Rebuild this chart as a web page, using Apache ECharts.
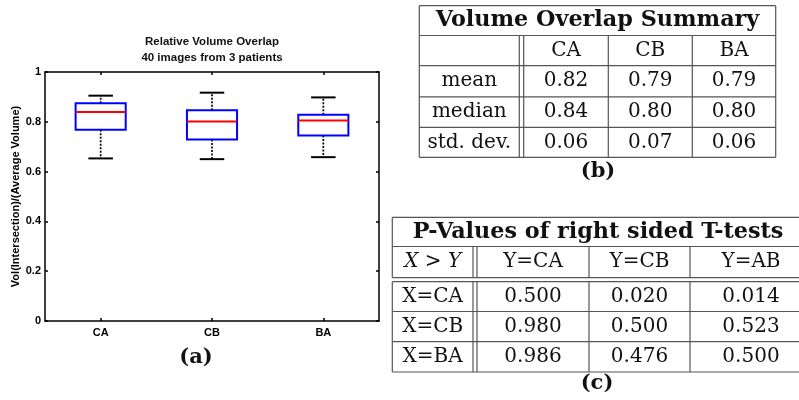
<!DOCTYPE html>
<html><head><meta charset="utf-8">
<script src="https://cdn.jsdelivr.net/npm/echarts@6/dist/echarts.min.js"></script>
<style>html,body{margin:0;padding:0;background:#fff}#c{width:799px;height:400px}</style>
</head><body><div id="c"></div>
<script>
// ---- boxplot data ----
const categories = ['CA', 'CB', 'BA'];
const whiskerLow  = [0.653, 0.650, 0.658];
const quartile1   = [0.768, 0.729, 0.745];
const medians     = [0.839, 0.801, 0.805];
const quartile3   = [0.875, 0.846, 0.828];
const whiskerHigh = [0.905, 0.917, 0.898];
const chartTitle = ['Relative Volume Overlap', '40 images from 3 patients'];
const yAxisName = 'Vol(Intersection)/(Average Volume)';

// ---- table (b) ----
const summaryTitle = 'Volume Overlap Summary';
const summaryCols = ['CA', 'CB', 'BA'];
const summaryRows = ['mean', 'median', 'std. dev.'];
const summaryMean = ['0.82', '0.79', '0.79'];
const summaryMedian = ['0.84', '0.80', '0.80'];
const summaryStd = ['0.06', '0.07', '0.06'];

// ---- table (c) ----
const pTitle = 'P-Values of right sided T-tests';
const pCorner = '{i|X} > {i|Y}';
const pCols = ['Y=CA', 'Y=CB', 'Y=AB'];
const pRows = ['X=CA', 'X=CB', 'X=BA'];
const pRowCA = ['0.500', '0.020', '0.014'];
const pRowCB = ['0.980', '0.500', '0.523'];
const pRowBA = ['0.986', '0.476', '0.500'];

const captions = ['(a)', '(b)', '(c)'];

const SANS = 'Liberation Sans, Arial, sans-serif';
const SERIF = 'DejaVu Serif, serif';
const LC = '#555', LW = 1.2;
const REG = 20, BOLD = 22.3, CAP = 21;

const boxData = categories.map((c, i) => [i, whiskerLow[i], quartile1[i], medians[i], quartile3[i], whiskerHigh[i]]);

function renderBox(params, api) {
  const i = api.value(0);
  const lo = api.coord([i, api.value(1)]);
  const b1 = api.coord([i, api.value(2)]);
  const md = api.coord([i, api.value(3)]);
  const b3 = api.coord([i, api.value(4)]);
  const hi = api.coord([i, api.value(5)]);
  const band = api.size([1, 0])[0];
  const bw = band * 0.45, cw = band * 0.22;
  const x = lo[0];
  const dash = { stroke: '#000', lineWidth: 1.7, lineDash: [2, 1.5] };
  const cap = { stroke: '#000', lineWidth: 2 };
  return { type: 'group', children: [
    { type: 'line', shape: { x1: x, y1: b3[1], x2: x, y2: hi[1] }, style: dash },
    { type: 'line', shape: { x1: x, y1: b1[1], x2: x, y2: lo[1] }, style: dash },
    { type: 'line', shape: { x1: x - cw / 2, y1: hi[1], x2: x + cw / 2, y2: hi[1] }, style: cap },
    { type: 'line', shape: { x1: x - cw / 2, y1: lo[1], x2: x + cw / 2, y2: lo[1] }, style: cap },
    { type: 'rect', shape: { x: x - bw / 2, y: b3[1], width: bw, height: b1[1] - b3[1] }, style: { fill: 'none', stroke: '#0000ff', lineWidth: 2 } },
    { type: 'line', shape: { x1: x - bw / 2, y1: md[1], x2: x + bw / 2, y2: md[1] }, style: { stroke: '#ff0000', lineWidth: 2 } }
  ]};
}

function hl(x1, x2, y) { return { type: 'line', silent: true, shape: { x1: x1, y1: y, x2: x2, y2: y }, style: { stroke: LC, lineWidth: LW } }; }
function vl(x, y1, y2) { return { type: 'line', silent: true, shape: { x1: x, y1: y1, x2: x, y2: y2 }, style: { stroke: LC, lineWidth: LW } }; }
function tx(s, x, y, size, weight, family, extra) {
  const st = Object.assign({ text: s, fontSize: size, fontWeight: weight || 'normal', fontFamily: family || SERIF, fill: '#111',
    align: 'center', verticalAlign: 'middle', textAlign: 'center', textVerticalAlign: 'middle' }, extra || {});
  return { type: 'text', silent: true, x: x, y: y, style: st };
}

const els = [];
// chart title
els.push(tx(chartTitle[0], 212, 42, 11.5, 'bold', SANS));
els.push(tx(chartTitle[1], 212, 57.5, 11.5, 'bold', SANS));
els.push(tx(captions[0], 196, 358, CAP, 'bold', SERIF));

// table (b)
(function () {
  const L = 419.3, D1 = 519.3, D2 = 523.7, C2 = 608.3, C3 = 692.3, R = 775.7;
  const Y = [5.7, 35.5, 65.7, 96.8, 127.3, 157.3];
  Y.forEach(y => els.push(hl(L, R, y)));
  els.push(vl(L, Y[0], Y[5]), vl(R, Y[0], Y[5]));
  [D1, D2, C2, C3].forEach(x => els.push(vl(x, Y[1], Y[5])));
  const colC = [(L + D1) / 2, (D2 + C2) / 2, (C2 + C3) / 2, (C3 + R) / 2];
  const rc = i => (Y[i] + Y[i + 1]) / 2;
  els.push(tx(summaryTitle, (L + R) / 2, rc(0), BOLD, 'bold'));
  summaryCols.forEach((c, j) => els.push(tx(c, colC[j + 1], rc(1), REG)));
  const vals = [summaryMean, summaryMedian, summaryStd];
  summaryRows.forEach((r, i) => {
    els.push(tx(r, colC[0], rc(i + 2), REG));
    vals[i].forEach((v, j) => els.push(tx(v, colC[j + 1], rc(i + 2), REG)));
  });
  els.push(tx(captions[1], 598, 172, CAP, 'bold'));
})();

// table (c)
(function () {
  const L = 392.3, D1 = 473, D2 = 477, C2 = 589, C3 = 690, R = 812;
  const Y = [217.3, 246.5, 277.7, 281.7, 311.5, 341.7, 372];
  Y.forEach(y => els.push(hl(L, R, y)));
  els.push(vl(L, Y[0], Y[2]), vl(L, Y[3], Y[6]));
  [D1, D2, C2, C3].forEach(x => { els.push(vl(x, Y[1], Y[2]), vl(x, Y[3], Y[6])); });
  const colC = [(L + D1) / 2, (D2 + C2) / 2, (C2 + C3) / 2, (C3 + R) / 2];
  els.push(tx(pTitle, 598, (Y[0] + Y[1]) / 2, BOLD, 'bold'));
  els.push(tx(pCorner, colC[0], (Y[1] + Y[2]) / 2, REG, 'normal', SERIF,
    { rich: { i: { fontStyle: 'italic', fontSize: REG, fontFamily: SERIF, fill: '#111' } } }));
  pCols.forEach((c, j) => els.push(tx(c, colC[j + 1], (Y[1] + Y[2]) / 2, REG)));
  const vals = [pRowCA, pRowCB, pRowBA];
  pRows.forEach((r, i) => {
    const yc = (Y[i + 3] + Y[i + 4]) / 2;
    els.push(tx(r, colC[0], yc, REG));
    vals[i].forEach((v, j) => els.push(tx(v, colC[j + 1], yc, REG)));
  });
  els.push(tx(captions[2], 597, 384, CAP, 'bold'));
})();

const axisLine = { show: true, onZero: false, lineStyle: { color: '#000', width: 1.5 } };
const tick = { show: true, inside: true, length: 3, alignWithLabel: true, lineStyle: { color: '#000', width: 1.5 } };
const lab = { color: '#000', fontWeight: 'bold', fontSize: 11, fontFamily: SANS };

const chart = echarts.init(document.getElementById('c'), null, { renderer: 'canvas' });
chart.setOption({
  animation: false,
  backgroundColor: '#fff',
  grid: { left: 45, top: 72, width: 334, height: 249, containLabel: false },
  xAxis: [
    { type: 'category', data: categories, position: 'bottom', boundaryGap: true, axisLine: axisLine, axisTick: tick,
      axisLabel: Object.assign({ margin: 6 }, lab), splitLine: { show: false } },
    { type: 'category', data: categories, position: 'top', boundaryGap: true, axisLine: axisLine, axisTick: tick,
      axisLabel: { show: false }, splitLine: { show: false } }
  ],
  yAxis: [
    { type: 'value', min: 0, max: 1, interval: 0.2, position: 'left', axisLine: axisLine, axisTick: tick,
      axisLabel: Object.assign({ margin: 4 }, lab), splitLine: { show: false },
      name: yAxisName, nameLocation: 'middle', nameGap: 22, nameTextStyle: lab },
    { type: 'value', min: 0, max: 1, interval: 0.2, position: 'right', axisLine: axisLine, axisTick: tick,
      axisLabel: { show: false }, splitLine: { show: false } }
  ],
  series: [{ type: 'custom', xAxisIndex: 0, yAxisIndex: 0, renderItem: renderBox, data: boxData, encode: { x: 0, y: [1, 2, 3, 4, 5] } }],
  graphic: els
});
</script></body></html>
